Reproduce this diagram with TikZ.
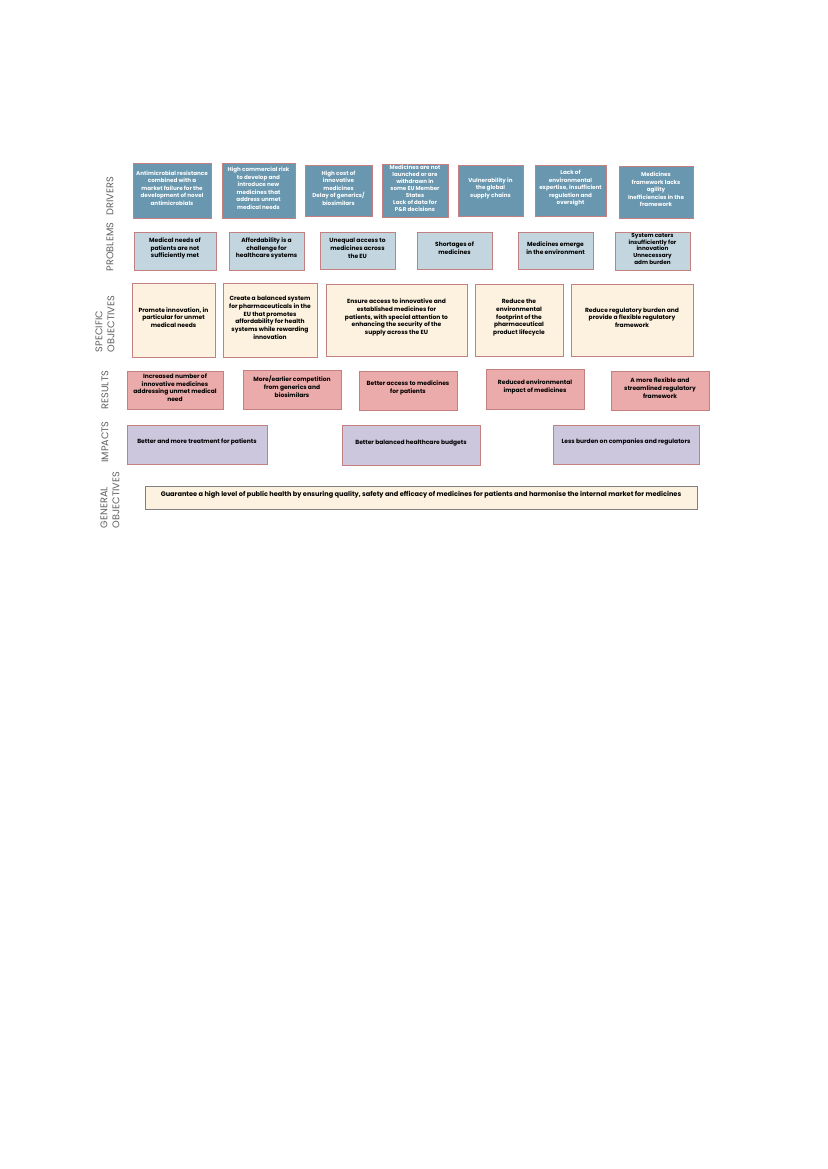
\documentclass[tikz,border=0pt]{standalone}
\usepackage{fontspec}
\setmainfont{Poppins}
\usetikzlibrary{positioning,
fit % boxes are fitted to their corners
}
\definecolor{drvfill}{RGB}{104,151,175}
\definecolor{prbfill}{RGB}{195,214,224}
\definecolor{objfill}{RGB}{253,242,223}
\definecolor{resfill}{RGB}{235,171,170}
\definecolor{impfill}{RGB}{204,199,221}
\definecolor{boxline}{RGB}{196,128,128}
\definecolor{genline}{RGB}{128,128,128}
\definecolor{labelgray}{RGB}{95,95,95}
\tikzset{%
  box/.style={draw=boxline, line width=0.6pt, inner sep=0pt, align=center,
    font=\fontsize{4.3}{5.5}\selectfont\bfseries},
  drvbox/.style={box, fill=drvfill, text=white,
    font=\fontsize{4.05}{5.4}\selectfont\bfseries},
  prbbox/.style={box, fill=prbfill},
  objbox/.style={box, fill=objfill},
  resbox/.style={box, fill=resfill},
  impbox/.style={box, fill=impfill},
  genbox/.style={box, fill=objfill, draw=genline,
    font=\fontsize{4.75}{5.5}\selectfont\bfseries},
  rowlabel/.style={rotate=90, align=left, inner sep=0pt, text=labelgray,
    font=\fontsize{7}{8.5}\selectfont}
}

\begin{document}
\begin{tikzpicture}[x=0.72pt, y=-0.72pt]
\useasboundingbox (0,0) rectangle (827,1169);

% row labels
\node[rowlabel] (lDrv) at (110,196) {DRIVERS};
\node[rowlabel] (lPrb) at (110,247) {PROBLEMS};
\node[rowlabel] (lObj) at (105,324) {SPECIFIC\\OBJECTIVES};
\node[rowlabel] (lRes) at (105,390) {RESULTS};
\node[rowlabel] (lImp) at (105,442) {IMPACTS};
\node[rowlabel] (lGen) at (110,500) {GENERAL\\OBJECTIVES};

% drivers
\node[drvbox, fit={(133,163) (211,218)}] (d1) {Antimicrobial resistance\\combined with a\\market failure for the\\development of novel\\antimicrobials};
\node[drvbox, fit={(222,163) (295,218)}] (d2) {High commercial risk\\to develop and\\introduce new\\medicines that\\address unmet\\medical needs};
\node[drvbox, fit={(305,165) (372,216)}] (d3) {High cost of\\innovative\\medicines\\Delay of generics/\\biosimilars};
\node[drvbox, fit={(382,164) (448,217)}, font=\fontsize{4}{5.15}\selectfont\bfseries] (d4) {Medicines are not\\launched or are\\withdrawn in\\some EU Member\\States\\Lack of data for\\P\&R decisions};
\node[drvbox, fit={(458,165) (523,216)}] (d5) {Vulnerability in\\the global\\supply chains};
\node[drvbox, fit={(535,165) (606,216)}] (d6) {Lack of\\environmental\\expertise, insufficient\\regulation and\\oversight};
\node[drvbox, fit={(619,166) (693,218)}] (d7) {Medicines\\framework lacks\\agility\\Inefficiencies in the\\framework};

% problems
\node[prbbox, fit={(134,232) (216,270)}] (p1) {Medical needs of\\patients are not\\sufficiently met};
\node[prbbox, fit={(229,232) (304,270)}] (p2) {Affordability is a\\challenge for\\healthcare systems};
\node[prbbox, fit={(320,232) (395,269)}] (p3) {Unequal access to\\medicines across\\the EU};
\node[prbbox, fit={(417,232) (492,269)}] (p4) {Shortages of\\medicines};
\node[prbbox, fit={(518,232) (593,269)}] (p5) {Medicines emerge\\in the environment};
\node[prbbox, fit={(615,232) (690,270)}, font=\fontsize{4.1}{5}\selectfont\bfseries] (p6) {System caters\\insufficiently for\\innovation\\Unnecessary\\adm burden};

% specific objectives
\node[objbox, fit={(132,283) (215,357)}] (o1) {Promote innovation, in\\particular for unmet\\medical needs};
\node[objbox, fit={(223,283) (317,357)}] (o2) {Create a balanced system\\for pharmaceuticals in the\\EU that promotes\\affordability for health\\systems while rewarding\\innovation};
\node[objbox, fit={(326,284) (467,356)}] (o3) {Ensure access to innovative and\\established medicines for\\patients, with special attention to\\enhancing the security of the\\supply across the EU};
\node[objbox, fit={(475,284) (563,356)}] (o4) {Reduce the\\environmental\\footprint of the\\pharmaceutical\\product lifecycle};
\node[objbox, fit={(571,284) (693,356)}] (o5) {Reduce regulatory burden and\\provide a flexible regulatory\\framework};

% results
\node[resbox, fit={(127,371) (223,409)}] (r1) {Increased number of\\innovative medicines\\addressing unmet medical\\need};
\node[resbox, fit={(243,370) (341,409)}] (r2) {More/earlier competition\\from generics and\\biosimilars};
\node[resbox, fit={(359,371) (457,410)}] (r3) {Better access to medicines\\for patients};
\node[resbox, fit={(486,369) (584,409)}] (r4) {Reduced environmental\\impact of medicines};
\node[resbox, fit={(611,371) (709,410)}] (r5) {A more flexible and\\streamlined regulatory\\framework};

% impacts
\node[impbox, fit={(127,425) (267,464)}] (i1) {Better and more treatment for patients};
\node[impbox, fit={(342,425) (480,465)}] (i2) {Better balanced healthcare budgets};
\node[impbox, fit={(553,425) (699,464)}] (i3) {Less burden on companies and regulators};

% general objective
\node[genbox, fit={(145,486) (697,509)}] (g1) {Guarantee a high level of public health by ensuring quality, safety and efficacy of medicines for patients and harmonise the internal market for medicines};

\end{tikzpicture}
\end{document}
